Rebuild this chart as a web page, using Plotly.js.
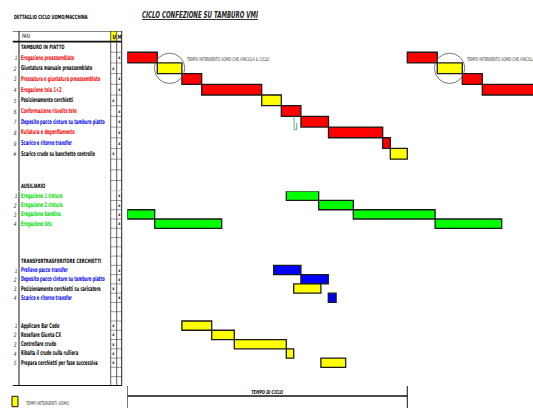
<!DOCTYPE html>
<html>
<head>
<meta charset="utf-8">
<script src="https://cdn.plot.ly/plotly-3.0.1.min.js"></script>
<style>html,body{margin:0;padding:0;background:#fff}#chart{width:533px;height:408px}</style>
</head>
<body>
<div id="chart"></div>
<script>
// ---------------- DATA (times in seconds) ----------------
const cycleTime = 140;

// TAMBURO IN PIATTO
const tamburoLabels = [
  "Erogazione preassemblato",
  "Giuntatura manuale preassemblato",
  "Pressatura e giuntatura preassemblato",
  "Erogazione tela 1+2",
  "Posizionamento cerchietti",
  "Conformazione risvolto tele",
  "Deposito pacco cinture su tamburo piatto",
  "Rullatura e degonfiamento",
  "Scarico e ritorno transfer",
  "Scarico crudo su banchetto controllo"
];
const tamburoNums = ["1","2","3","4","5","6","7","8","9","#"];
const tamburoUM = ["M","U","M","M","U","M","M","M","M","U"];
const tamburoTextColor = ["#ff0000","#000000","#ff0000","#ff0000","#000000","#ff0000","#0000ff","#ff0000","#0000ff","#000000"];
const tamburoStart = [0, 15, 27.3, 37.2, 67.2, 77, 86.8, 100.6, 127.7, 131.5];
const tamburoEnd   = [15, 27.3, 37.2, 67.2, 77, 86.8, 100.6, 127.7, 131.5, 140];
// start of the next cycle (first four phases)
const nextCycleStart = [140, 155, 167.5, 177.5];
const nextCycleEnd   = [155, 167.5, 177.5, 207.5];

// AUSILIARIO
const ausiliarioLabels = ["Erogazione 1 cintura","Erogazione 2 cintura","Erogazione bandina","Erogazione lsts"];
const ausiliarioNums = ["1","2","3","4"];
const ausiliarioUM = ["M","M","M","M"];
const ausiliarioStart  = [79.5, 95.7, 0, 13.7];
const ausiliarioEnd    = [95.7, 113, 13.7, 47.2];
const ausiliarioStart2 = [null, null, 113, 153.9];
const ausiliarioEnd2   = [null, null, 153.9, 187.2];

// TRANSFERTRASFERITORE CERCHIETTI
const transferLabels = ["Prelievo pacco transfer","Deposito pacco cinture su tamburo piatto","Posizionamento cerchietti su caricatore","Scarico e ritorno transfer"];
const transferNums = ["1","2","3","4"];
const transferUM = ["M","M","U","M"];
const transferTextColor = ["#0000ff","#0000ff","#000000","#0000ff"];
const transferStart = [73.2, 86.8, 83.2, 100.5];
const transferEnd   = [86.8, 100.5, 96.8, 104.4];

// Operatore
const operatoreLabels = ["Applicare Bar Code","Rosellare Giunta CX","Controllare crudo","Ribalta il crudo sulla rulliera","Prepara cerchietti per fase successiva"];
const operatoreNums = ["1","2","3","4","5"];
const operatoreUM = ["U","U","U","U","U"];
const operatoreStart = [27.3, 42.2, 53.5, 79.5, 96.8];
const operatoreEnd   = [42.2, 53.5, 79.5, 83.2, 109.2];

// ---------------- LAYOUT / STYLE ----------------
const W = 533, H = 408;
const FONT = "'Liberation Sans Narrow','DejaVu Sans Condensed','Liberation Sans',sans-serif";
const RED = "#ff0000", YEL = "#ffff00", GRN = "#00ff00", BLU = "#0000ff";
const px = p => p / W;
const py = p => 1 - p / H;
const SPLIT = 14;          // last row on the upper y axis
const LAST_ROW = 35;
const yref = r => (r <= SPLIT ? "y" : "y2");

// row indices of each section
const tamburoHeaderRow = 1, tamburoRow0 = 2;
const ausiliarioHeaderRow = 14, ausiliarioRow0 = 15;
const transferHeaderRow = 22, transferRow0 = 23;
const operatoreRow0 = 29;

const colU = [110.7, 116.7], colM = [116.7, 121.7];
const tableL = 12.7, tableR = 121.7, gutterX = 19;

const traces = [];
function addBars(rowStart, starts, ends, um, machColor) {
  const groups = {};
  starts.forEach((s, i) => {
    if (s === null || ends[i] === null) return;
    const r = rowStart + i;
    const ax = yref(r);
    if (!groups[ax]) groups[ax] = {y: [], base: [], x: [], c: []};
    groups[ax].y.push(r); groups[ax].base.push(s); groups[ax].x.push(ends[i] - s);
    groups[ax].c.push(um[i] === "U" ? YEL : machColor);
  });
  Object.keys(groups).forEach(ax => {
    const g = groups[ax];
    traces.push({type: "bar", orientation: "h", xaxis: "x", yaxis: ax,
      y: g.y, base: g.base, x: g.x, width: 1, hoverinfo: "skip", showlegend: false,
      marker: {color: g.c, line: {color: "#1a1a1a", width: 1.3}}});
  });
}
addBars(tamburoRow0, tamburoStart, tamburoEnd, tamburoUM, RED);
addBars(tamburoRow0, nextCycleStart, nextCycleEnd, tamburoUM.slice(0, 4), RED);
addBars(ausiliarioRow0, ausiliarioStart, ausiliarioEnd, ausiliarioUM, GRN);
addBars(ausiliarioRow0, ausiliarioStart2, ausiliarioEnd2, ausiliarioUM, GRN);
addBars(transferRow0, transferStart, transferEnd, transferUM, BLU);
addBars(operatoreRow0, operatoreStart, operatoreEnd, operatoreUM, RED);

const annotations = [];
const shapes = [];
// sx = horizontal condensing factor applied after drawing (narrow font look)
function txt(text, x, r, opts, sx) {
  const a = Object.assign({text, x, xref: "paper", y: r, yref: yref(r),
    xanchor: "left", align: "left", yanchor: "middle", showarrow: false, borderpad: 0,
    font: {family: FONT, size: 5.6, color: "#000"}}, opts || {});
  a.sx = sx || 1;
  annotations.push(a);
}
function addSection(header, row0, labels, nums, um, colors) {
  if (header !== null) txt(header.title, px(20.2), header.row, {font: {family: FONT, size: 6, color: "#000", weight: "bold"}}, 0.7);
  labels.forEach((l, i) => {
    const r = row0 + i;
    const c = Array.isArray(colors) ? colors[i] : colors;
    txt(l, px(20.2), r, {font: {family: FONT, size: 6.6, color: c, weight: "bold"}}, 0.6);
    txt(nums[i], px(18), r, {xanchor: "right", align: "right", font: {family: FONT, size: 6, color: "#333", style: "italic"}}, 0.8);
    const col = um[i] === "U" ? colU : colM;
    txt("x", px((col[0] + col[1]) / 2), r, {xanchor: "center", align: "center", font: {family: FONT, size: 4.6, color: "#000", weight: "bold"}}, 0.8);
  });
}
addSection({title: "TAMBURO IN PIATTO", row: tamburoHeaderRow}, tamburoRow0, tamburoLabels, tamburoNums, tamburoUM, tamburoTextColor);
addSection({title: "AUSILIARIO", row: ausiliarioHeaderRow}, ausiliarioRow0, ausiliarioLabels, ausiliarioNums, ausiliarioUM, "#00dc00");
addSection({title: "TRANSFERTRASFERITORE CERCHIETTI", row: transferHeaderRow}, transferRow0, transferLabels, transferNums, transferUM, transferTextColor);
addSection(null, operatoreRow0, operatoreLabels, operatoreNums, operatoreUM, "#000");

// header row
txt("FASI", px(20.7), 0, {font: {family: FONT, size: 5.8, color: "#000"}}, 0.75);
shapes.push({type: "rect", xref: "paper", yref: "y", x0: px(colU[0]), x1: px(colU[1]), y0: -0.5, y1: 0.5, fillcolor: YEL, line: {width: 0}});
txt("U", px((colU[0] + colU[1]) / 2), 0, {xanchor: "center", align: "center", font: {family: FONT, size: 6, color: "#000", weight: "bold"}}, 0.8);
txt("M", px((colM[0] + colM[1]) / 2), 0, {xanchor: "center", align: "center", font: {family: FONT, size: 6, color: "#000", weight: "bold"}}, 0.7);

// table grid
for (let r = 0; r <= LAST_ROW; r++) {
  shapes.push({type: "line", xref: "paper", yref: yref(r), x0: px(colU[0]), x1: px(colM[1]), y0: r + 0.5, y1: r + 0.5, line: {color: "#555", width: 0.6}});
}
[colU[0], colM[0]].forEach(xx => {
  shapes.push({type: "line", xref: "paper", yref: "y", x0: px(xx), x1: px(xx), y0: -0.5, y1: SPLIT + 0.5, line: {color: "#333", width: 0.8}});
  shapes.push({type: "line", xref: "paper", yref: "y2", x0: px(xx), x1: px(xx), y0: SPLIT + 0.5, y1: LAST_ROW + 0.5, line: {color: "#333", width: 0.8}});
});
shapes.push({type: "line", xref: "paper", yref: "y", x0: px(tableR), x1: px(tableR), y0: -0.5, y1: SPLIT + 0.5, line: {color: "#222", width: 1}});
shapes.push({type: "line", xref: "paper", yref: "y2", x0: px(tableR), x1: px(tableR), y0: SPLIT + 0.5, y1: LAST_ROW + 0.5, line: {color: "#222", width: 1}});
shapes.push({type: "line", xref: "paper", yref: "y", x0: px(gutterX), x1: px(gutterX), y0: -0.5, y1: SPLIT + 0.5, line: {color: "#8a8a8a", width: 2}});
shapes.push({type: "line", xref: "paper", yref: "y2", x0: px(gutterX), x1: px(gutterX), y0: SPLIT + 0.5, y1: LAST_ROW + 0.5, line: {color: "#8a8a8a", width: 2}});
shapes.push({type: "line", xref: "paper", yref: "y", x0: px(tableL), x1: px(tableR), y0: -0.5, y1: -0.5, line: {color: "#111", width: 1.2}});
shapes.push({type: "line", xref: "paper", yref: "y", x0: px(tableL), x1: px(tableR), y0: 0.5, y1: 0.5, line: {color: "#111", width: 1.8}});
shapes.push({type: "line", xref: "paper", yref: "y2", x0: px(tableL), x1: px(tableR), y0: LAST_ROW + 0.5, y1: LAST_ROW + 0.5, line: {color: "#111", width: 1.8}});

// circles around the operator phase that constrains the cycle
[0, cycleTime].forEach(off => {
  const cx = (tamburoStart[1] + tamburoEnd[1]) / 2 + off;
  const r = tamburoRow0 + 1;
  shapes.push({type: "circle", xref: "x", yref: "y", x0: cx - 7.6, x1: cx + 7.6, y0: r - 1.42, y1: r + 1.42, line: {color: "#555", width: 0.8}});
  const a = {text: "TEMPO INTERVENTO UOMO CHE VINCOLA IL CICLO", x: tamburoEnd[1] + 1.6 + off, xref: "x", y: tamburoRow0 + 0.1, yref: "y",
    xanchor: "left", align: "left", borderpad: 0, yanchor: "middle", showarrow: false, font: {family: FONT, size: 5, color: "#333"}};
  a.sx = 0.72;
  annotations.push(a);
});

// small green connector
shapes.push({type: "path", xref: "x", yref: "y", path: "M 83.4 7.5 L 83.4 8.75 L 84.7 8.75 M 84.7 8.1 L 84.7 8.75", line: {color: "#3a9a5a", width: 0.8}});

// TEMPO DI CICLO bracket
shapes.push({type: "line", xref: "x", yref: "paper", x0: 0, x1: cycleTime, y0: py(396), y1: py(396), line: {color: "#111", width: 1.3}});
[0, cycleTime].forEach(xx => shapes.push({type: "line", xref: "x", yref: "paper", x0: xx, x1: xx, y0: py(386), y1: py(408), line: {color: "#111", width: 1}}));
annotations.push({text: "TEMPO DI CICLO", x: cycleTime / 2, xref: "x", y: py(392), yref: "paper", xanchor: "center", align: "center", yanchor: "middle", showarrow: false, borderpad: 0, font: {family: FONT, size: 5.4, color: "#111", weight: "bold", style: "italic"}, sx: 0.72});

// legend
shapes.push({type: "rect", xref: "paper", yref: "paper", x0: px(12), x1: px(18), y0: py(406.7), y1: py(396.3), fillcolor: YEL, line: {color: "#111", width: 1}});
annotations.push({text: "TEMPI INTERVENTI UOMO", x: px(24), xref: "paper", y: py(402.5), yref: "paper", xanchor: "left", align: "left", yanchor: "middle", showarrow: false, borderpad: 0, font: {family: FONT, size: 5, color: "#333"}, sx: 0.75});

// titles
annotations.push({text: "DETTAGLIO CICLO UOMO/MACCHINA", x: px(12.7), xref: "paper", y: py(16.7), yref: "paper", xanchor: "left", align: "left", yanchor: "middle", showarrow: false, borderpad: 0, font: {family: FONT, size: 5.8, color: "#000", weight: "bold"}, sx: 0.7});
annotations.push({text: "<u>CICLO CONFEZIONE SU TAMBURO VMI</u>", x: px(140.5), xref: "paper", y: py(15), yref: "paper", xanchor: "left", align: "left", yanchor: "middle", showarrow: false, borderpad: 0, font: {family: FONT, size: 9.4, color: "#222", weight: "bold", style: "italic"}, sx: 0.65});

const layout = {
  width: W, height: H, margin: {l: 0, r: 0, t: 0, b: 0},
  paper_bgcolor: "#fff", plot_bgcolor: "rgba(0,0,0,0)",
  barmode: "overlay", showlegend: false,
  xaxis: {domain: [px(127.3), 1], range: [0, (W - 127.3) / 2], visible: false, fixedrange: true},
  yaxis: {domain: [py(191.2), py(30.9)], range: [SPLIT + 0.5, -0.5], visible: false, anchor: "x"},
  yaxis2: {domain: [py(385.9), py(191.2)], range: [LAST_ROW + 0.5, SPLIT + 0.5], visible: false, anchor: "x"},
  annotations, shapes
};
Plotly.newPlot("chart", traces, layout, {staticPlot: true, displayModeBar: false}).then(() => {
  // condense annotation texts horizontally to mimic the narrow spreadsheet font
  document.querySelectorAll("#chart g.annotation").forEach(g => {
    const idx = +g.getAttribute("data-index");
    const a = annotations[idx];
    const sx = (a && a.sx) || 1;
    if (sx === 1) return;
    const t = g.querySelector("text.annotation-text");
    if (!t) return;
    const len = t.getComputedTextLength();
    const cut = len * (1 - sx);
    t.setAttribute("textLength", (len * sx).toFixed(2));
    t.setAttribute("lengthAdjust", "spacingAndGlyphs");
    // shrink the annotation box to the condensed text
    g.querySelectorAll("rect").forEach(rc => {
      const w = parseFloat(rc.getAttribute("width"));
      if (!isFinite(w)) return;
      rc.setAttribute("width", Math.max(0, w - cut).toFixed(2));
      if (a.align === "center") rc.setAttribute("x", (parseFloat(rc.getAttribute("x") || 0) + cut / 2).toFixed(2));
      if (a.align === "right") rc.setAttribute("x", (parseFloat(rc.getAttribute("x") || 0) + cut).toFixed(2));
    });
  });
});
</script>
</body>
</html>
